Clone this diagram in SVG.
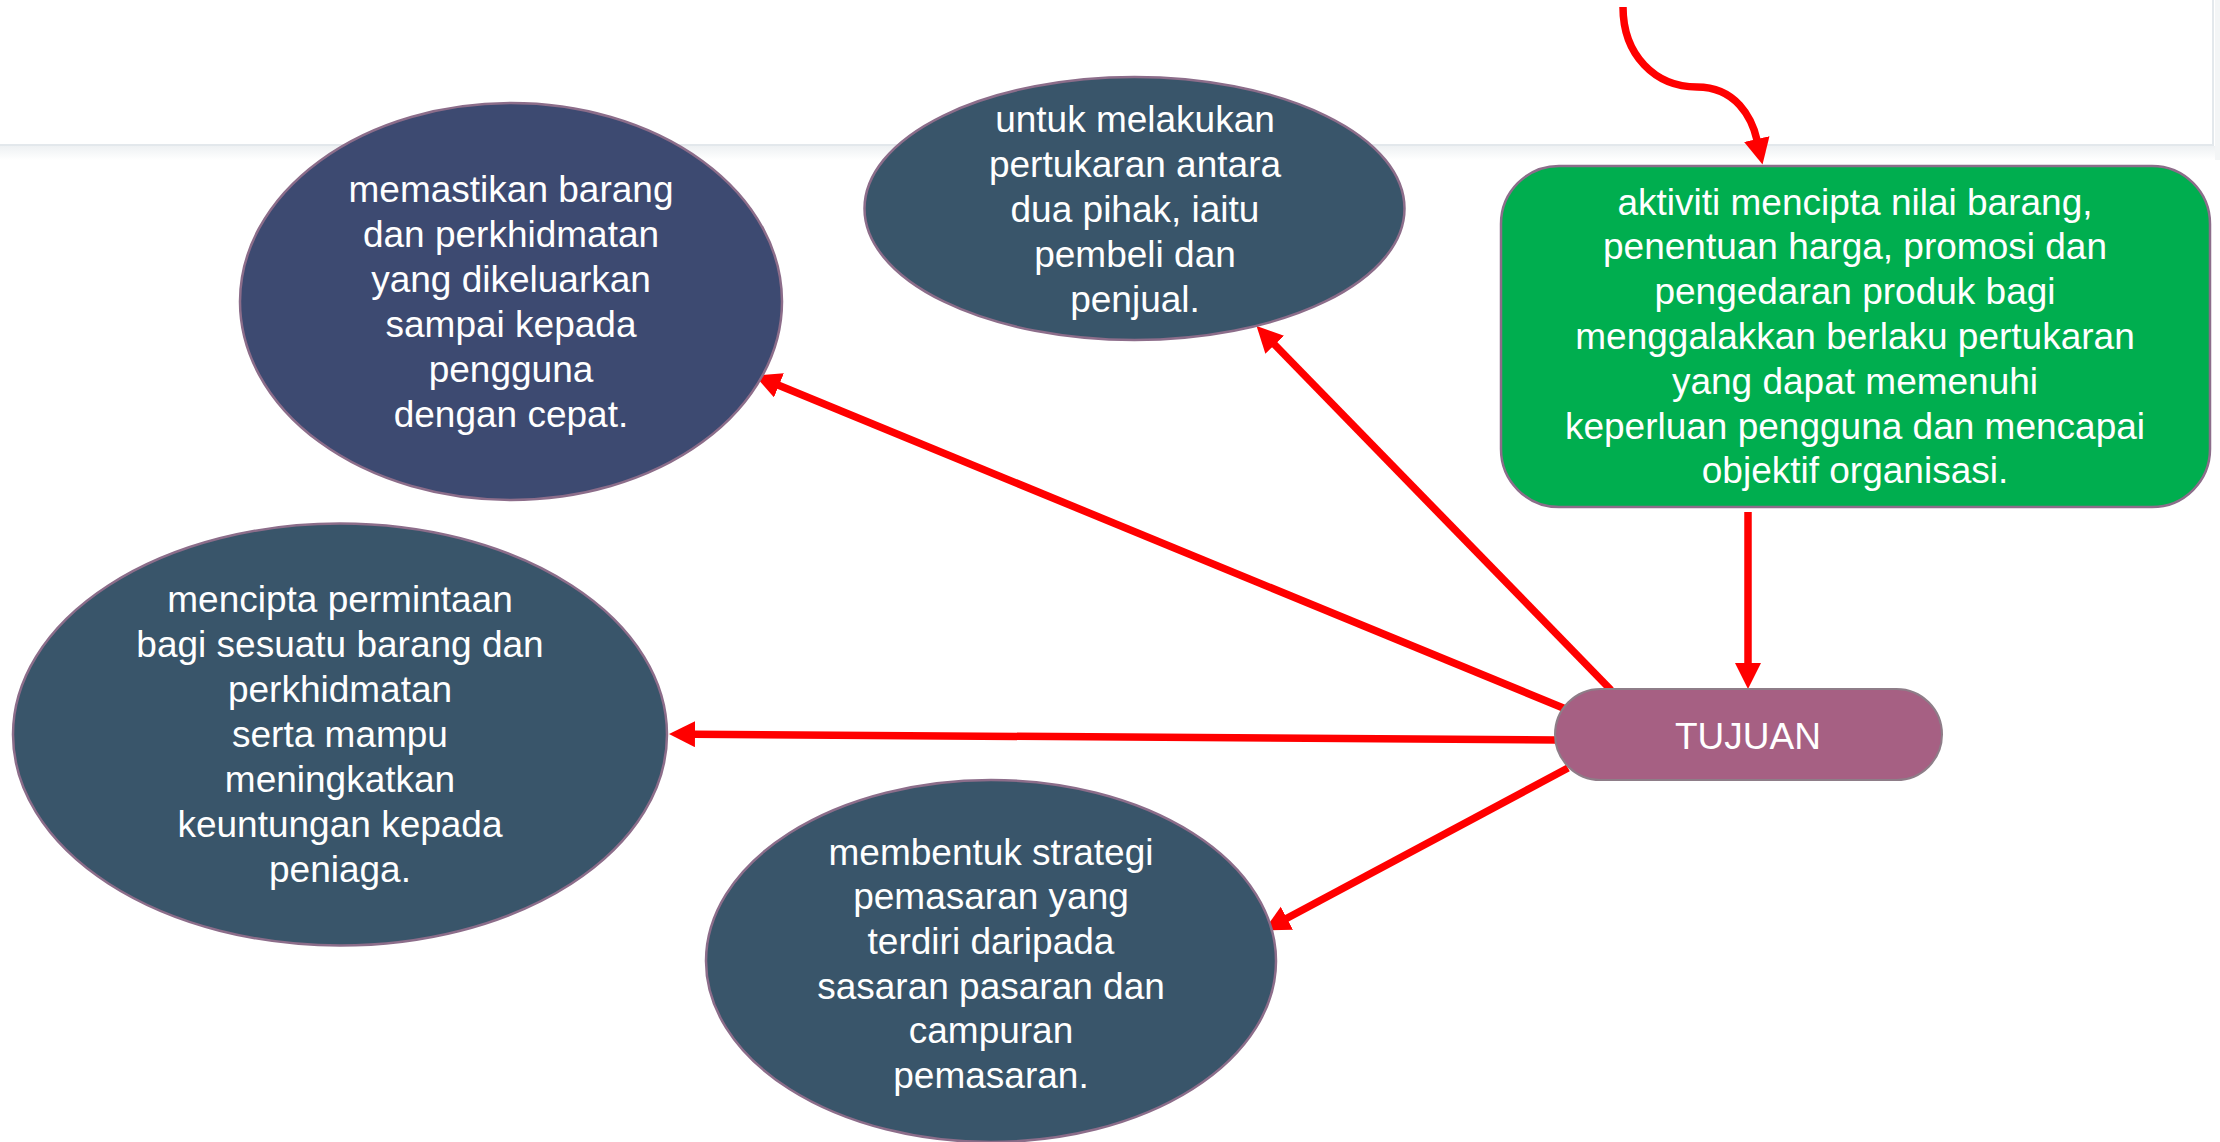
<svg xmlns="http://www.w3.org/2000/svg" width="2220" height="1142" viewBox="0 0 2220 1142">
<defs>
<style>
.t{font-family:"Liberation Sans",Arial,sans-serif;font-size:37px;fill:#ffffff;text-anchor:middle}
.e1{fill:#3D4A71;stroke:#8C6D8A;stroke-width:2.5}
.e2{fill:#39556A;stroke:#8C6D8A;stroke-width:2.5}
.c{stroke:#FF0000;stroke-width:7.5;fill:none}
</style>
<marker id="ah" markerUnits="userSpaceOnUse" markerWidth="30" markerHeight="30" refX="1" refY="13" orient="auto">
<path d="M0,0 L26,13 L0,26 z" fill="#FF0000"/>
</marker>
<linearGradient id="sh" x1="0" y1="0" x2="0" y2="1">
<stop offset="0" stop-color="#EEF1F3"/>
<stop offset="1" stop-color="#FFFFFF"/>
</linearGradient>
</defs>
<rect x="0" y="0" width="2220" height="1142" fill="#FFFFFF"/>
<g id="panel">
<rect x="0" y="146" width="2218" height="14" fill="url(#sh)"/>
<rect x="2215" y="0" width="5" height="160" fill="#F3F5F6"/>
<rect x="-2" y="-2" width="2215" height="147" fill="#FFFFFF" stroke="#E3E8EC" stroke-width="2"/>
</g>
<g id="connectors">
<path class="c" d="M1623,7 C1623,55 1655,87 1697,87 C1736,87 1752,118 1757,140" marker-end="url(#ah)"/>
<line class="c" x1="1748" y1="512" x2="1748" y2="664" marker-end="url(#ah)"/>
<line class="c" x1="1611" y1="690" x2="1274" y2="344" marker-end="url(#ah)"/>
<line class="c" x1="1573" y1="712" x2="778" y2="385" marker-end="url(#ah)"/>
<line class="c" x1="1557" y1="740" x2="694" y2="734.2" marker-end="url(#ah)"/>
<line class="c" x1="1568" y1="768" x2="1286" y2="918.7" marker-end="url(#ah)"/>
</g>
<g id="node-memastikan">
<ellipse class="e1" cx="511" cy="301.5" rx="271" ry="198.5"/>
<text class="t" x="511" y="202">memastikan barang</text>
<text class="t" x="511" y="247">dan perkhidmatan</text>
<text class="t" x="511" y="292">yang dikeluarkan</text>
<text class="t" x="511" y="337">sampai kepada</text>
<text class="t" x="511" y="382">pengguna</text>
<text class="t" x="511" y="427">dengan cepat.</text>
</g>
<g id="node-untuk">
<ellipse class="e2" cx="1134.5" cy="208.5" rx="270" ry="131.5"/>
<text class="t" x="1135" y="132">untuk melakukan</text>
<text class="t" x="1135" y="177">pertukaran antara</text>
<text class="t" x="1135" y="222">dua pihak, iaitu</text>
<text class="t" x="1135" y="267">pembeli dan</text>
<text class="t" x="1135" y="312">penjual.</text>
</g>
<g id="node-aktiviti">
<rect x="1501" y="166" width="709" height="341" rx="58" ry="58" fill="#00AE4F" stroke="#8C6D8A" stroke-width="2.5"/>
<text class="t" x="1855" y="215">aktiviti mencipta nilai barang,</text>
<text class="t" x="1855" y="259">penentuan harga, promosi dan</text>
<text class="t" x="1855" y="304">pengedaran produk bagi</text>
<text class="t" x="1855" y="349">menggalakkan berlaku pertukaran</text>
<text class="t" x="1855" y="394">yang dapat memenuhi</text>
<text class="t" x="1855" y="439">keperluan pengguna dan mencapai</text>
<text class="t" x="1855" y="483">objektif organisasi.</text>
</g>
<g id="node-mencipta">
<ellipse class="e2" cx="340" cy="734.5" rx="327" ry="211"/>
<text class="t" x="340" y="612">mencipta permintaan</text>
<text class="t" x="340" y="657">bagi sesuatu barang dan</text>
<text class="t" x="340" y="702">perkhidmatan</text>
<text class="t" x="340" y="747">serta mampu</text>
<text class="t" x="340" y="792">meningkatkan</text>
<text class="t" x="340" y="837">keuntungan kepada</text>
<text class="t" x="340" y="882">peniaga.</text>
</g>
<g id="node-membentuk">
<ellipse class="e2" cx="991" cy="961" rx="285" ry="181"/>
<text class="t" x="991" y="865">membentuk strategi</text>
<text class="t" x="991" y="909">pemasaran yang</text>
<text class="t" x="991" y="954">terdiri daripada</text>
<text class="t" x="991" y="999">sasaran pasaran dan</text>
<text class="t" x="991" y="1043">campuran</text>
<text class="t" x="991" y="1088">pemasaran.</text>
</g>
<g id="node-tujuan">
<rect x="1555" y="689" width="387" height="91" rx="45.5" ry="45.5" fill="#A66083" stroke="#8E7D88" stroke-width="2"/>
<text class="t" x="1748" y="749">TUJUAN</text>
</g>
</svg>
